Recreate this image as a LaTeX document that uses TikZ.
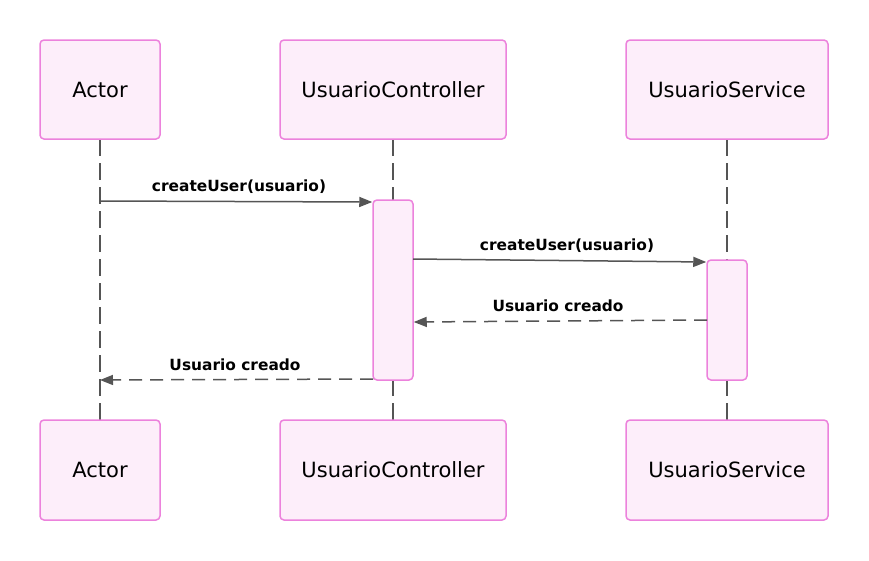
\documentclass[tikz,border=0pt]{standalone}
\usepackage{fontspec}
\setmainfont{DejaVu Sans}
\usetikzlibrary{arrows.meta}
\definecolor{boxborder}{RGB}{236,130,220}
\definecolor{boxfill}{RGB}{253,238,250}
\definecolor{linegray}{RGB}{85,85,85}
\begin{document}
\begin{tikzpicture}[x=1pt,y=-1pt,
  actorbox/.style={draw=boxborder,fill=boxfill,line width=1.5pt,rounded corners=4pt,minimum height=99pt,inner sep=0pt,font=\fontsize{21}{25}\selectfont},
  actbar/.style={draw=boxborder,fill=boxfill,line width=1.5pt,rounded corners=4pt,minimum width=40pt,inner sep=0pt},
  lifeline/.style={draw=linegray,line width=1.3pt,dash pattern=on 17pt off 7pt},
  msg/.style={draw=linegray,line width=1.5pt,-{Triangle[length=13pt,width=10pt]}},
  retmsg/.style={msg,dash pattern=on 13pt off 8pt},
  msglabel/.style={font=\bfseries\fontsize{15.4}{18}\selectfont,text=black,inner sep=0pt}
]
\useasboundingbox (0,0) rectangle (869,560);
% lifelines (drawn first)
\coordinate (la1) at (100,139); \coordinate (la2) at (100,420);
\coordinate (lc1) at (393,139); \coordinate (lc2) at (393,420);
\coordinate (ls1) at (727,139); \coordinate (ls2) at (727,420);
\draw[lifeline] (la1) -- (la2);
\draw[lifeline] (lc1) -- (lc2);
\draw[lifeline] (ls1) -- (ls2);
% participant boxes
\node[actorbox,minimum width=120pt] (at) at (100,89.5) {Actor};
\node[actorbox,minimum width=226pt] (ct) at (393,89.5) {UsuarioController};
\node[actorbox,minimum width=202pt] (st) at (727,89.5) {UsuarioService};
\node[actorbox,minimum width=120pt,minimum height=100pt] (ab) at (100,470) {Actor};
\node[actorbox,minimum width=226pt,minimum height=100pt] (cb) at (393,470) {UsuarioController};
\node[actorbox,minimum width=202pt,minimum height=100pt] (sb) at (727,470) {UsuarioService};
% activation bars
\node[actbar,minimum height=180pt] (cact) at (393,290) {};
\node[actbar,minimum height=120pt] (sact) at (727,320) {};
% messages
\coordinate (m1s) at (100,201);
\draw[msg] (m1s) -- (cact.west |- 0,202);
\node[msglabel] (l1) at (239,187) {createUser(usuario)};
\coordinate (m2s) at (413,259);
\draw[msg] (m2s) -- (sact.west |- 0,262);
\node[msglabel] (l2) at (567,246) {createUser(usuario)};
\coordinate (m3s) at (707,320);
\draw[retmsg] (m3s) -- (cact.east |- 0,322);
\node[msglabel] (l3) at (558,306) {Usuario creado};
\coordinate (m4s) at (373,379);
\draw[retmsg] (m4s) -- (at.center |- 0,380);
\node[msglabel] (l4) at (235,365) {Usuario creado};
\end{tikzpicture}
\end{document}
